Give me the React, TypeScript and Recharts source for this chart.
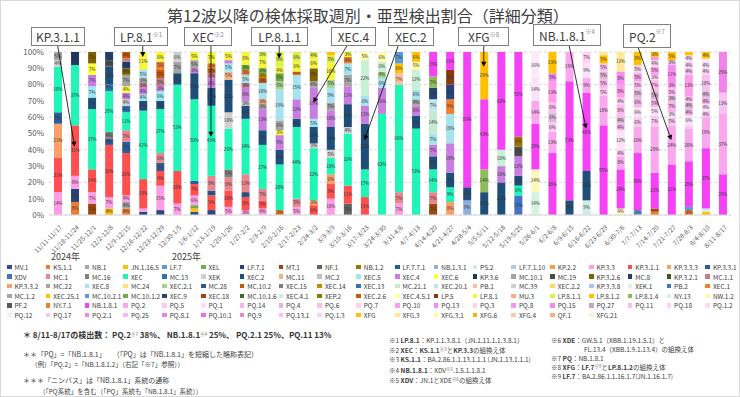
import { BarChart, Bar, XAxis, YAxis, CartesianGrid, ReferenceLine, LabelList } from 'recharts';

const weeks = [
  '11/11-11/17', '11/18-11/24', '11/25-12/1', '12/2-12/8', '12/9-12/15', '12/16-12/22', '12/23-12/29', '12/30-1/5',
  '1/6-1/12', '1/13-1/19', '1/20-1/26', '1/27-2/2', '2/3-2/9', '2/10-2/16', '2/17-2/23', '2/24-3/2',
  '3/3-3/9', '3/10-3/16', '3/17-3/23', '3/24-3/30', '3/31-4/6', '4/7-4/13', '4/14-4/20', '4/21-4/27',
  '4/28-5/4', '5/5-5/11', '5/12-5/18', '5/19-5/25', '5/26-6/1', '6/2-6/8', '6/9-6/15', '6/16-6/22',
  '6/23-6/29', '6/30-7/6', '7/7-7/13', '7/14-7/20', '7/21-7/27', '7/28-8/3', '8/4-8/10', '8/11-8/17',
];

// legend order = stacking order (bottom -> top)
const seriesNames = [
  'MV.1', 'KS.1.1', 'NB.1', 'JN.1.16.5', 'LF.7', 'XEL', 'LF.7.1', 'MT.1', 'NF.1', 'NB.1.2', 'LF.7.7.1', 'NB.1.3.1', 'PS.2', 'LF.7.1.10', 'KP.2.2', 'KP.3.3', 'KP.3.1.1', 'KP.3.3.3', 'KP.3.3.1',
  'XDV', 'MC.1', 'MC.16', 'XEC', 'MC.13', 'XEK', 'XEC.2', 'MC.11', 'MC.2', 'XEC.5', 'XEC.4', 'XEC.6', 'KP.3.6', 'MC.10.1', 'MC.19', 'KP.3.2.6', 'MC.8', 'KP.3.2.1', 'MC.1.1',
  'KP.3.3.2', 'MC.22', 'XEC.8', 'MC.24', 'XEC.2.1', 'MC.28', 'MC.10.2', 'XEC.15', 'XEC.14', 'XEC.13', 'MC.21.1', 'XEC.20.1', 'PB.1', 'MC.39', 'XEC.2.2', 'KP.3.3.8', 'XEK.1', 'PB.2', 'XEC.1',
  'MC.1.2', 'XEC.25.1', 'MC.10.2.1', 'MC.10.1.2', 'XEC.9', 'XEC.18', 'MC.10.1.6', 'XEC.4.1', 'XEP.2', 'XEC.2.6', 'XEC.4.5.1', 'LP.5', 'LP.8.1', 'MU.3', 'LP.8.1.1', 'LP.8.1.2', 'LP.8.1.4', 'NY.13', 'NW.1.2',
  'PF.2', 'NY.7.1', 'NB.1.8.1', 'PQ.2', 'PQ.5', 'PQ.1', 'PQ.14', 'PQ.4', 'PQ.6', 'PQ.7', 'PQ.10', 'PQ.13', 'PQ.3', 'PQ.8', 'PQ.15', 'PQ.27', 'PQ.11', 'PQ.18', 'PQ.1.2',
  'PQ.12', 'PQ.17', 'PQ.2.1', 'PQ.25', 'PQ.8.1', 'PQ.10.1', 'PQ.9', 'PQ.13.1', 'PQ.1.3', 'XFG', 'XFG.3', 'XFG.3.1', 'XFG.6', 'XFG.4', 'QF.1', 'XFG.21',
];

const seriesColors = [
  '#2f4f8f', '#ed7d31', '#a5a5a5', '#ffc000', '#5b9bd5', '#70ad47', '#264478', '#9e480e', '#636363', '#997300', '#255e91', '#8fb0dd', '#cdeee8', '#a9cde8', '#f79a4c', '#ff9ee6', '#ff4f4f', '#f9a06a', '#2e5c9a',
  '#4472c4', '#e8868f', '#7f7f7f', '#1ff5b5', '#2e75b6', '#d0d0d0', '#1f4e79', '#f4b183', '#bfbfbf', '#9be7f2', '#c77ee0', '#ffff3c', '#203864', '#a5a5a5', '#4d4d4d', '#806000', '#1f3f6f', '#385723', '#c27c8c',
  '#f4a070', '#a6a6a6', '#a6e3ee', '#ffe07a', '#a9d18e', '#2f5597', '#c55a11', '#7f7f7f', '#bf9000', '#2e75b6', '#c5ead2', '#bde6f0', '#f8c0a0', '#cfcfcf', '#ffd966', '#a9c8ea', '#d5f2e3', '#4472c4', '#ed7d31',
  '#a5a5a5', '#ffc000', '#5b9bd5', '#70ad47', '#264478', '#9e480e', '#43682b', '#c8f0d4', '#997300', '#c55a11', '#ffffa6', '#843c0c', '#f5f53c', '#f4b183', '#dcf04a', '#ffc000', '#8fbc5a', '#d2f4e0', '#fdf8b8',
  '#595959', '#ed7d31', '#f542f5', '#f9a8ee', '#fcc8f2', '#fbe2f6', '#f7b4ea', '#dcb8d6', '#ffbcee', '#ffd0f4', '#ff9bea', '#f98cf0', '#f8d2ee', '#f59ae8', '#ee8cee', '#c9a2c4', '#f6c2f0', '#fbd4f3', '#f8dcf2',
  '#fde9f7', '#f7c6ee', '#f184e8', '#f8b8ee', '#e884e6', '#f06ee6', '#e58ac6', '#f8c0f0', '#fad2f4', '#ffc000', '#ffe699', '#ffff99', '#ffb000', '#f8cbad', '#f4b183', '#fff2cc',
];

type Seg = [string, number];

// weekly shares (%) per lineage
const wk00: Seg[] = [['KP.3.3', 14], ['KP.3.1.1', 21], ['KP.3.3.3', 21], ['KP.3.3.1', 7], ['XEC', 28], ['XEK', 4], ['MC.22', 5]];
const wk01: Seg[] = [['KS.1.1', 8], ['LF.7.1', 8], ['KP.3.3', 8], ['KP.3.1.1', 31], ['XEC', 37], ['KP.3.6', 8]];
const wk02: Seg[] = [['MT.1', 7], ['KP.3.3', 7], ['KP.3.1.1', 14], ['XEC', 37], ['XEC.2', 7], ['XEC.5', 7], ['XEC.4', 7], ['XEC.6', 7], ['KP.3.2.6', 7]];
const wk03: Seg[] = [['JN.1.16.5', 4], ['KP.3.3', 7], ['KP.3.1.1', 32], ['KP.3.3.1', 4], ['MC.16', 4], ['XEC', 25], ['MC.13', 4], ['XEC.2', 11], ['MC.19', 4], ['MC.8', 5]];
const wk04: Seg[] = [['KS.1.1', 4], ['NB.1', 4], ['KP.3.3', 4], ['KP.3.1.1', 26], ['KP.3.3.1', 7], ['MC.1', 7], ['XEC', 11], ['MC.13', 4], ['XEK', 4], ['XEC.4', 4], ['XEC.6', 4], ['MC.10.1', 7], ['KP.3.2.6', 4], ['MC.8', 4], ['MC.1.1', 2], ['MC.10.2', 4]];
const wk05: Seg[] = [['LF.7.1', 2], ['KP.3.3', 2], ['KP.3.1.1', 18], ['XEC', 42], ['XEC.2', 6], ['XEC.5', 4], ['XEC.4', 4], ['MC.1.1', 3], ['MC.22', 3], ['XEC.8', 5], ['LP.8.1', 11]];
const wk06: Seg[] = [['MV.1', 3], ['KP.3.3', 15], ['KP.3.1.1', 9], ['KP.3.3.1', 5], ['MC.1', 6], ['XEC', 27], ['XEC.2', 5], ['XEC.5', 6], ['XEC.4', 3], ['MC.1.1', 5], ['MC.10.2', 5], ['XEC.1', 5], ['LP.8.1', 6]];
const wk07: Seg[] = [['KP.3.3', 7], ['KP.3.1.1', 20], ['XEC', 53], ['XEC.2', 7], ['MC.10.1', 7], ['MC.39', 6]];
const wk08: Seg[] = [['MV.1', 2], ['JN.1.16.5', 2], ['XEL', 2], ['KP.3.3', 6], ['KP.3.1.1', 7], ['KP.3.3.1', 2], ['XEC', 50], ['XEC.2', 16], ['XEC.4', 3], ['MC.22', 5], ['LP.8.1', 5]];
const wk09: Seg[] = [['MV.1', 3], ['KP.3.1.1', 9], ['KP.3.3.1', 3], ['MC.1', 9], ['XEC', 43], ['XEC.2', 11], ['XEC.4', 6], ['MC.1.1', 3], ['MC.10.2', 3], ['XEC.1', 3], ['LP.8.1', 7]];
const wk10: Seg[] = [['KP.3.3', 5], ['KP.3.1.1', 10], ['MC.1', 8], ['MC.16', 5], ['XEC', 25], ['XEK', 10], ['XEC.2', 20], ['MC.11', 5], ['XEC.5', 5], ['XEC.4', 2], ['LP.8.1', 5]];
const wk11: Seg[] = [['KP.3.3', 3], ['KP.3.1.1', 8], ['KP.3.3.1', 3], ['MC.1', 11], ['XEC', 34], ['XEC.2', 8], ['MC.2', 3], ['XEC.4', 8], ['MC.1.1', 3], ['XEC.8', 5], ['XEC.1', 3], ['MC.10.1.2', 3], ['LP.8.1', 8]];
const wk12: Seg[] = [['KP.3.3', 4], ['KP.3.1.1', 5], ['MC.1', 7], ['XEC', 27], ['XEC.2', 9], ['XEC.4', 13], ['MC.10.1', 3], ['KP.3.3.2', 3], ['XEC.8', 10], ['MC.10.2', 3], ['XEC.14', 3], ['MC.10.1.2', 3], ['LP.8.1', 7], ['LP.8.1.1', 3]];
const wk13: Seg[] = [['KS.1.1', 3], ['XEC', 28], ['XEC.2', 9], ['XEC.4', 9], ['XEC.6', 3], ['MC.10.1', 6], ['XEC.8', 19], ['XEC.2.1', 5], ['MC.10.1.2', 5], ['LP.8.1', 4], ['LP.8.1.1', 9]];
const wk14: Seg[] = [['KP.3.3', 5], ['MC.1', 5], ['XEC', 44], ['XEC.2', 5], ['XEC.4', 12], ['XEC.8', 15], ['MC.10.2', 2], ['LP.8.1', 6], ['LP.8.1.1', 6]];
const wk15: Seg[] = [['KP.3.1.1', 6], ['KP.3.3.3', 3], ['XEC', 32], ['XEK', 3], ['XEC.2', 10], ['XEC.5', 5], ['XEC.4', 19], ['MC.10.1', 4], ['KP.3.2.6', 8], ['LP.8.1', 6], ['LP.8.1.1', 4]];
const wk16: Seg[] = [['KP.3.3', 10], ['KP.3.1.1', 9], ['KP.3.3.3', 6], ['XEC', 10], ['XEK', 5], ['XEC.2', 14], ['XEC.4', 10], ['MC.10.1', 5], ['XEC.8', 9], ['XEC.2.1', 5], ['LP.8.1', 10], ['LP.8.1.1', 5], ['LP.8.1.2', 2]];
const wk17: Seg[] = [['NF.1', 7], ['KP.3.1.1', 11], ['XEC', 32], ['XEK', 4], ['XEC.2', 14], ['XEC.4', 11], ['MC.10.1', 7], ['XEC.8', 7], ['XEC.1', 4], ['LP.8.1', 3]];
const wk18: Seg[] = [['KP.3.1.1', 11], ['XEC', 17], ['XEC.2', 28], ['XEC.4', 11], ['XEC.8', 6], ['XEC.4.1', 22], ['XEC.4.5.1', 5]];
const wk19: Seg[] = [['XEC', 62], ['XEC.4', 16], ['XEC.8', 6], ['XEC.2.1', 4], ['XEC.4.1', 6], ['XEC.4.5.1', 6]];
const wk20: Seg[] = [['KP.3.3', 7], ['MC.1', 7], ['XEC', 66], ['PB.1', 7], ['XEC.25.1', 6], ['MC.10.2.1', 7]];
const wk21: Seg[] = [['XEC', 53], ['XEC.2', 8], ['XEC.4', 6], ['MC.22', 4], ['XEC.8', 6], ['XEC.4.1', 12], ['XEC.4.5.1', 5], ['LP.8.1.2', 6]];
const wk22: Seg[] = [['MT.1', 7], ['MC.1', 7], ['XEC', 14], ['XEC.2', 8], ['XEC.4', 7], ['XEC.8', 7], ['MC.21.1', 14], ['XEC.20.1', 7], ['XEC.9', 7], ['LP.8.1.4', 7], ['NB.1.8.1', 15]];
const wk23: Seg[] = [['KP.3.3.3', 8], ['XEC', 9], ['XEC.2', 9], ['XEC.4', 18], ['XEC.8', 18], ['XEC.1', 9], ['XEC.9', 9], ['LP.5', 9], ['NB.1.8.1', 11]];
const wk24: Seg[] = [['NB.1.3.1', 9], ['XEC.2', 8], ['NB.1.8.1', 83]];
const wk25: Seg[] = [['XEC.2', 14], ['LP.8.1.4', 14], ['NB.1.8.1', 43], ['XFG', 29]];
const wk26: Seg[] = [['XEC.2', 20], ['XEC.4', 10], ['XEC.4.1', 10], ['NB.1.8.1', 60]];
const wk27: Seg[] = [['XDV', 12], ['XEC', 6], ['XEC.2', 6], ['XEC.4', 12], ['MC.19', 6], ['XEP.2', 6], ['NB.1.8.1', 52]];
const wk28: Seg[] = [['NY.13', 14], ['NW.1.2', 14], ['NB.1.8.1', 28], ['PQ.2', 14], ['PQ.1', 14], ['PQ.12', 16]];
const wk29: Seg[] = [['NB.1.8.1', 38], ['PQ.2', 13], ['PQ.5', 6], ['PQ.4', 6], ['PQ.6', 6], ['PQ.10', 13], ['PQ.15', 5], ['XFG', 13]];
const wk30: Seg[] = [['XEC.2', 9], ['NB.1.8.1', 73], ['PQ.2', 18]];
const wk31: Seg[] = [['PS.2', 9], ['XEC.2', 18], ['NB.1.8.1', 48], ['PQ.2', 9], ['PQ.1', 9], ['PQ.7', 7]];
const wk32: Seg[] = [['NB.1.8.1', 55], ['PQ.2', 18], ['PQ.5', 5], ['PQ.14', 5], ['PQ.4', 5], ['PQ.6', 5], ['XFG', 5], ['XFG.3', 2]];
const wk33: Seg[] = [['NW.1.2', 4], ['NB.1.8.1', 24], ['PQ.2', 8], ['PQ.5', 4], ['PQ.1', 12], ['PQ.14', 4], ['PQ.4', 4], ['PQ.6', 8], ['PQ.7', 4], ['PQ.10', 8], ['PQ.13', 8], ['XFG.3', 12]];
const wk34: Seg[] = [['LF.7', 3], ['NB.1.8.1', 35], ['PQ.2', 16], ['PQ.5', 6], ['PQ.1', 6], ['PQ.14', 6], ['PQ.4', 5], ['PQ.6', 5], ['PQ.10', 5], ['PQ.3', 5], ['XFG', 8]];
const wk35: Seg[] = [['KS.1.1', 2], ['MT.1', 2], ['NB.1.8.1', 22], ['PQ.2', 28], ['PQ.5', 7], ['PQ.1', 5], ['PQ.14', 5], ['PQ.4', 5], ['PQ.6', 7], ['PQ.7', 3], ['PQ.10', 5], ['PQ.3', 4], ['PQ.8', 2], ['XFG', 3]];
const wk36: Seg[] = [['NB.1.8.1', 31], ['PQ.2', 24], ['PQ.5', 5], ['PQ.1', 3], ['PQ.14', 7], ['PQ.4', 3], ['PQ.6', 5], ['PQ.10', 3], ['PQ.13', 11], ['PQ.11', 3], ['XFG', 5]];
const wk37: Seg[] = [['KS.1.1', 3], ['LF.7', 2], ['NB.1.8.1', 28], ['PQ.2', 20], ['PQ.5', 2], ['PQ.1', 6], ['PQ.14', 4], ['PQ.4', 4], ['PQ.6', 4], ['PQ.10', 13], ['PQ.11', 4], ['PQ.18', 4], ['PQ.1.2', 4], ['XFG', 2]];
const wk38: Seg[] = [['JN.1.16.5', 2], ['PS.2', 2], ['NB.1.8.1', 37], ['PQ.2', 19], ['PQ.5', 4], ['PQ.1', 4], ['PQ.14', 4], ['PQ.4', 4], ['PQ.11', 10], ['PQ.18', 4], ['PQ.1.2', 4], ['PQ.12', 2], ['XFG', 4]];
const wk39: Seg[] = [['NB.1.8.1', 25], ['PQ.2', 37], ['PQ.11', 13], ['PQ.2.1', 25]];

const weekSegments = [
  wk00, wk01, wk02, wk03, wk04, wk05, wk06, wk07, wk08, wk09, wk10, wk11, wk12, wk13, wk14, wk15, wk16, wk17, wk18, wk19,
  wk20, wk21, wk22, wk23, wk24, wk25, wk26, wk27, wk28, wk29, wk30, wk31, wk32, wk33, wk34, wk35, wk36, wk37, wk38, wk39,
];

const yTicks = [0, 10, 20, 30, 40, 50, 60, 70, 80, 90, 100];

// callout boxes: text, note mark, box position, and the week / share the arrow points at
const callouts = [
  { text: 'KP.3.1.1', note: '', left: 30, top: 26, width: 54, height: 19, from: 0, to: 1, y: 42 },
  { text: 'LP.8.1', note: '※1', left: 113, top: 26, width: 54, height: 19, from: 5, to: 5, y: 97 },
  { text: 'XEC', note: '※2', left: 183, top: 26, width: 48, height: 19, from: 9, to: 9, y: 48 },
  { text: 'LP.8.1.1', note: '', left: 250, top: 26, width: 57, height: 19, from: 13, to: 13, y: 96 },
  { text: 'XEC.4', note: '', left: 330, top: 26, width: 45, height: 19, from: 17, to: 15, y: 69 },
  { text: 'XEC.2', note: '', left: 387, top: 26, width: 46, height: 19, from: 20, to: 18, y: 46 },
  { text: 'XFG', note: '※8', left: 457, top: 26, width: 51, height: 19, from: 25, to: 25, y: 91 },
  { text: 'NB.1.8.1', note: '※4', left: 532, top: 23, width: 68, height: 22, from: 30, to: 31, y: 53 },
  { text: 'PQ.2', note: '※7', left: 622, top: 23, width: 48, height: 24, from: 34, to: 36, y: 46 },
];

const keyOf = (n: string) => 's_' + n.replace(/\./g, '_');

const data = weeks.map((week, i) => {
  const row: Record<string, string | number> = { week };
  seriesNames.forEach((n) => { row[keyOf(n)] = 0; });
  weekSegments[i].forEach(([n, v]) => { row[keyOf(n)] = v; });
  return row;
});

const FONT = '"Noto Sans CJK JP", "Noto Sans", sans-serif';

function WeekTick(props: any) {
  const { x, y, payload } = props;
  const ax = x + 5;
  const ay = y + 5;
  return (
    <text x={ax} y={ay} transform={`rotate(-45 ${ax} ${ay})`} textAnchor="end" fontSize={6.5} fill="#595959">
      {payload.value}
    </text>
  );
}

function Arrow(props: any) {
  const { x1, y1, x2, y2 } = props;
  const a = Math.atan2(y2 - y1, x2 - x1);
  const s = 5;
  const w = 2.6;
  const bx = x2 - s * Math.cos(a);
  const by = y2 - s * Math.sin(a);
  const p1 = `${bx + w * Math.sin(a)},${by - w * Math.cos(a)}`;
  const p2 = `${bx - w * Math.sin(a)},${by + w * Math.cos(a)}`;
  return (
    <g>
      <line x1={x1} y1={y1} x2={bx} y2={by} stroke="#000" strokeWidth={0.8} />
      <polygon points={`${x2},${y2} ${p1} ${p2}`} fill="#000" />
    </g>
  );
}

const segLabel = (v: any) => (typeof v === 'number' && v >= 3 ? `${v}%` : '');

function Legend() {
  return (
    <div style={{ position: 'absolute', left: 6, top: 262, width: 740, fontSize: 6.5, color: '#404040' }}>
      {seriesNames.map((n, i) => {
        const col = i % 19;
        const row = Math.floor(i / 19);
        return (
          <div key={n} style={{ position: 'absolute', left: col * 38.8, top: row * 9.6, display: 'flex', alignItems: 'center', whiteSpace: 'nowrap', lineHeight: '8px' }}>
            <span style={{ display: 'inline-block', width: 4.5, height: 4.5, background: seriesColors[i], marginRight: 3 }} />
            {n}
          </div>
        );
      })}
    </div>
  );
}

const Sup = ({ t }: { t: string }) => (
  <span style={{ fontSize: 4.5, position: 'relative', top: -2, lineHeight: 0, color: '#666', fontWeight: 400 }}>{t}</span>
);

function Notes() {
  const base: React.CSSProperties = { position: 'absolute', whiteSpace: 'nowrap', color: '#404040', fontSize: 6.5, lineHeight: '8px' };
  return (
    <>
      <div style={{ ...base, left: 22, top: 329, fontSize: 8, lineHeight: '10px', fontWeight: 700, color: '#333' }}>
        ＊ 8/11-8/17の検出数：&nbsp;PQ.2<Sup t="※7" /> 38%、 NB.1.8.1<Sup t="※4" /> 25%、 PQ.2.1 25%、PQ.11 13%
      </div>
      <div style={{ ...base, left: 22, top: 349, fontSize: 7 }}>＊＊「PQ」=「NB.1.8.1」　　（「PQ」は「NB.1.8.1」を短縮した略称表記）</div>
      <div style={{ ...base, left: 30, top: 359 }}>（例）「PQ.2」=「NB.1.8.1.2」（右記「※7」参照））</div>
      <div style={{ ...base, left: 22, top: 375, fontSize: 7 }}>＊＊＊「ニンバス」は「NB.1.8.1」系統の通称</div>
      <div style={{ ...base, left: 38, top: 386 }}>（「PQ系統」を含む（「PQ」系統も「NB.1.8.1」系統））</div>

      <div style={{ ...base, left: 388, top: 335 }}>※1 <b>LP.8.1</b>：KP.1.1.3.8.1（JN.1.11.1.1.3.8.1）</div>
      <div style={{ ...base, left: 388, top: 344.5 }}>※2 <b>XEC</b>：<b>KS.1.1</b><Sup t="※3" />と<b>KP.3.3</b>の組換え体</div>
      <div style={{ ...base, left: 388, top: 354 }}>※3 <b>KS.1.1</b>：BA.2.86.1.1.13.1.1.1 (JN.1.13.1.1.1)</div>
      <div style={{ ...base, left: 388, top: 365 }}>※4 <b>NB.1.8.1</b>：XDV<Sup t="※5" />.1.5.1.1.8.1</div>
      <div style={{ ...base, left: 388, top: 374.5 }}>※5 <b>XDV</b>：JN.1とXDE<Sup t="※6" />の組換え体</div>

      <div style={{ ...base, left: 550, top: 335 }}>※6 <b>XDE</b>：GW.5.1（XBB.1.19.1.5.1）と</div>
      <div style={{ ...base, left: 583, top: 344 }}>FL.13.4（XBB.1.9.1.13.4）の組換え体</div>
      <div style={{ ...base, left: 550, top: 353 }}>※7 <b>PQ</b>：NB.1.8.1</div>
      <div style={{ ...base, left: 550, top: 362 }}>※8 <b>XFG</b>：<b>LF.7</b><Sup t="※9" />と<b>LP.8.1.2</b>の組換え体</div>
      <div style={{ ...base, left: 550, top: 371 }}>※9 <b>LF.7</b>：BA.2.86.1.1.16.1.7(JN.1.16.1.7)</div>
    </>
  );
}

export default function App() {
  return (
    <div style={{ position: 'absolute', left: 0, top: 0, width: 740, height: 397, boxSizing: 'border-box', border: '1px solid #d9d9d9', background: '#fff', fontFamily: FONT, overflow: 'hidden' }}>
      <div style={{ position: 'absolute', left: 0, top: 2, width: 734, textAlign: 'center', fontSize: 16, color: '#404040' }}>
        第12波以降の検体採取週別・亜型検出割合（詳細分類）
      </div>

      <div style={{ position: 'absolute', left: 0, top: 0 }}>
        <BarChart width={740} height={260} data={data} margin={{ top: 51, right: 10, bottom: 6, left: 8 }} barSize={8}>
          <CartesianGrid vertical={false} stroke="#d9d9d9" strokeDasharray="3 2" />
          <XAxis dataKey="week" interval={0} tick={<WeekTick />} tickLine={false} axisLine={{ stroke: '#d9d9d9' }} height={40} />
          <YAxis domain={[0, 100]} ticks={yTicks} tickFormatter={(v) => `${v}%`} width={40} tickLine={false} axisLine={false} tickSize={3} tick={{ fontSize: 8, fill: '#595959' }} />
          {seriesNames.map((n, i) => (
            <Bar key={n} dataKey={keyOf(n)} name={n} stackId="a" fill={seriesColors[i]} isAnimationActive={false}>
              <LabelList dataKey={keyOf(n)} position="center" formatter={segLabel} fontSize={4.6} fill="#333" />
            </Bar>
          ))}
          {callouts.map((c) => (
            <ReferenceLine
              key={c.text}
              ifOverflow="visible"
              segment={[{ x: weeks[c.from], y: 104.3 }, { x: weeks[c.to], y: c.y }]}
              shape={<Arrow />}
            />
          ))}
        </BarChart>
      </div>

      {callouts.map((c) => (
        <div key={c.text} style={{ position: 'absolute', left: c.left, top: c.top, width: c.width, height: c.height, boxSizing: 'border-box', border: '1px solid #7f7f7f', background: '#fff', color: '#404040', fontSize: 12, display: 'flex', alignItems: 'center', justifyContent: 'center', whiteSpace: 'nowrap' }}>
          {c.text}
          {c.note && <span style={{ fontSize: 6, alignSelf: 'flex-start', marginTop: 2, color: '#888' }}>{c.note}</span>}
        </div>
      ))}

      <div style={{ position: 'absolute', left: 50, top: 249, fontSize: 9, color: '#404040' }}>2024年</div>
      <div style={{ position: 'absolute', left: 171, top: 249, fontSize: 9, color: '#404040' }}>2025年</div>

      <Legend />
      <Notes />
    </div>
  );
}
